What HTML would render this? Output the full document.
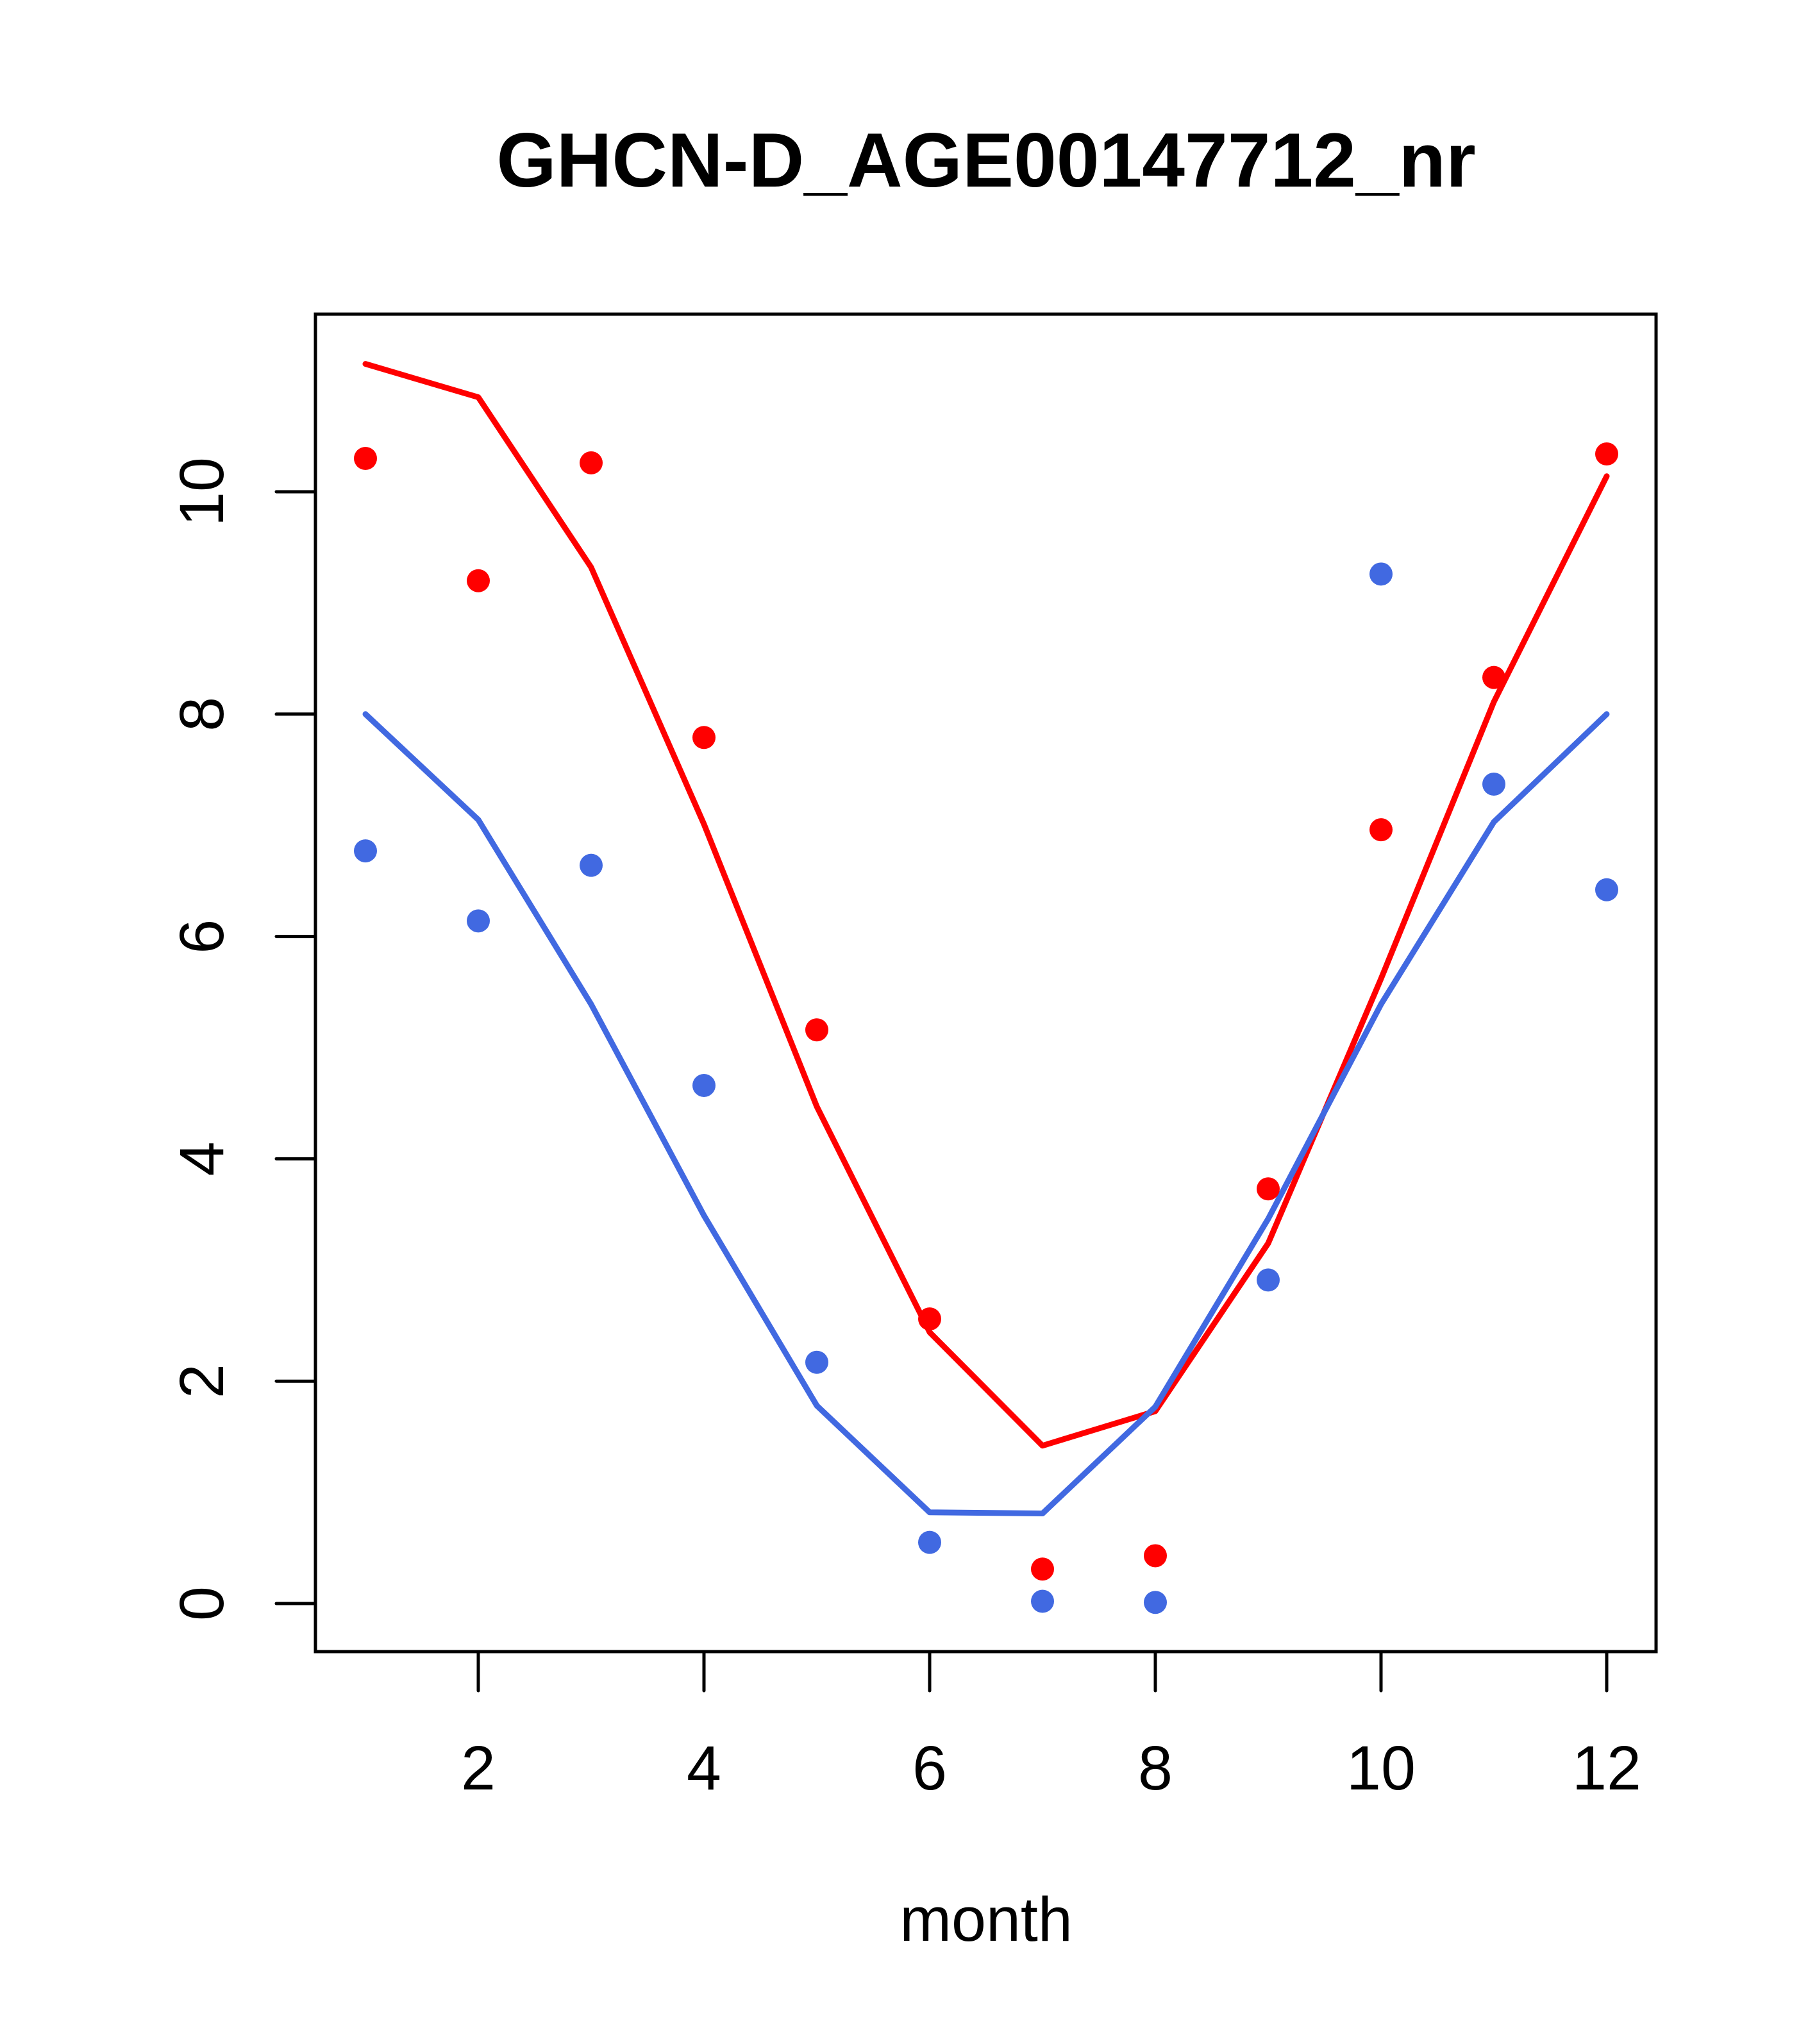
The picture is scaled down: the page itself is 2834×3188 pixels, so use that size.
<!DOCTYPE html>
<html><head><meta charset="utf-8"><style>
html,body{margin:0;padding:0;background:#fff;}
svg{display:block;font-family:"Liberation Sans",Arial,sans-serif;}
</style></head><body>
<svg id="chart" width="2834" height="3188" viewBox="0 0 2834 3188" xmlns="http://www.w3.org/2000/svg">
<rect width="2834" height="3188" fill="#fff"/>
<text x="1538" y="291" font-size="120" font-weight="bold" text-anchor="middle">GHCN-D_AGE00147712_nr</text>
<text x="1538" y="3027" font-size="97" text-anchor="middle">month</text>
<g id="plot"></g>
</svg>
<script>
const months = [1,2,3,4,5,6,7,8,9,10,11,12];
const redPoints = [10.30,9.20,10.26,7.79,5.16,2.56,0.31,0.43,3.73,6.96,8.33,10.34];
const bluePoints = [6.77,6.14,6.64,4.66,2.17,0.55,0.02,0.01,2.91,9.26,7.37,6.42];
const redLine = [11.15,10.85,9.32,7.01,4.47,2.44,1.42,1.73,3.24,5.62,8.11,10.14];
const blueLine = [8.00,7.05,5.39,3.49,1.78,0.82,0.81,1.77,3.46,5.39,7.03,8.00];
const xTicks = [2,4,6,8,10,12];
const yTicks = [0,2,4,6,8,10];

const NS = "http://www.w3.org/2000/svg";
const g = document.getElementById('plot');
const X = m => 746 + (m - 2) * (2506 - 746) / 10;
const Y = v => 2501 - v * (2501 - 767) / 10;
function mk(tag, attrs){ const e = document.createElementNS(NS, tag); for (const k in attrs) e.setAttribute(k, attrs[k]); g.appendChild(e); return e; }

const box = mk('rect', {x:492, y:490, width:2091, height:2086, fill:'none', stroke:'#000', 'stroke-width':5});



xTicks.forEach(t => {
  const l = mk('line', {x1:X(t), x2:X(t), y1:2576, y2:2637, stroke:'#000', 'stroke-width':5, 'stroke-linecap':'round'});
  
  
  const tx = mk('text', {x:X(t), y:2791, 'font-size':97, 'text-anchor':'middle'});
  tx.textContent = t;
  
  
});
yTicks.forEach(t => {
  const l = mk('line', {x1:431, x2:492, y1:Y(t), y2:Y(t), stroke:'#000', 'stroke-width':5, 'stroke-linecap':'round'});
  
  
  const tx = mk('text', {x:0, y:0, 'font-size':97, 'text-anchor':'middle', transform:`translate(348,${Y(t)}) rotate(-90)`});
  tx.textContent = t;
  
  
});

function line(vals, color, name){
  const p = mk('polyline', {points: vals.map((v,i)=>X(months[i])+','+Y(v)).join(' '), fill:'none', stroke:color, 'stroke-width':9, 'stroke-linejoin':'round', 'stroke-linecap':'round'});
  
  
}
function pts(vals, color, name){
  vals.forEach((v,i) => {
    const c = mk('circle', {cx:X(months[i]), cy:Y(v), r:18, fill:color});
    
    
  });
}
line(redLine, '#ff0000', 'red-fit-line');
line(blueLine, '#4169e1', 'blue-fit-line');
pts(redPoints, '#ff0000', 'red-point');
pts(bluePoints, '#4169e1', 'blue-point');
</script>
</body></html>
